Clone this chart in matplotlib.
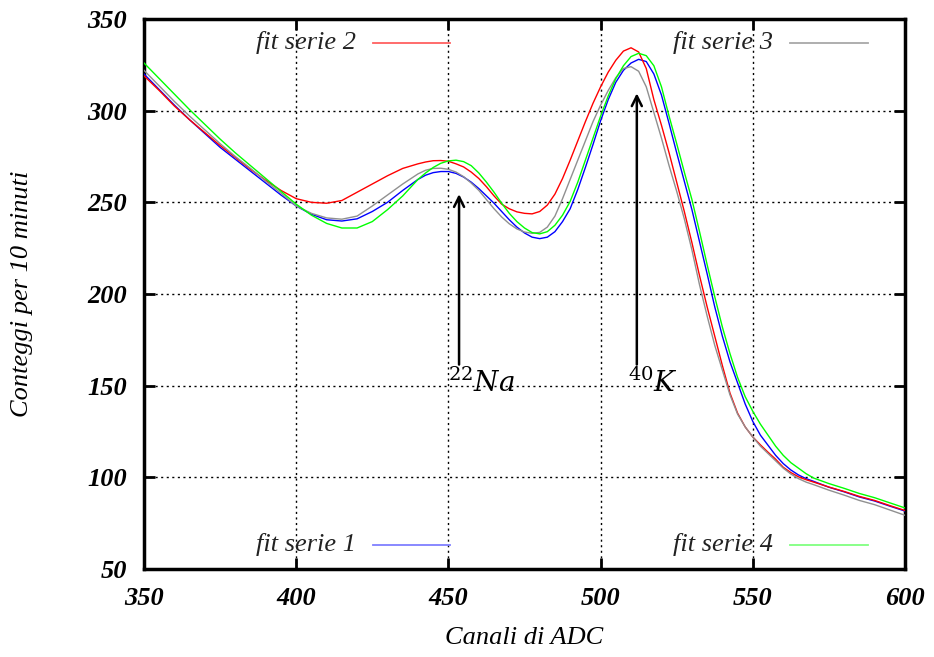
import matplotlib
matplotlib.use("Agg")
import matplotlib.pyplot as plt
from matplotlib.lines import Line2D

# ---- data ----
channels = [350, 355, 360, 365, 370, 375, 380, 385, 390, 395,
            400, 405, 410, 415, 420, 425, 430, 435,
            440, 442.5, 445, 447.5, 450, 452.5, 455, 457.5, 460, 462.5,
            465, 467.5, 470, 472.5, 475, 477.5, 480, 482.5, 485, 487.5,
            490, 492.5, 495, 497.5, 500, 502.5, 505, 507.5, 510, 512.5,
            515, 517.5, 520, 522.5, 525, 527.5, 530, 532.5, 535, 537.5,
            540, 542.5, 545, 547.5, 550, 552.5, 555, 557.5, 560, 562.5,
            565, 567.5, 570, 575, 580, 585, 590, 595, 600]

fit_serie_1 = [320, 311.5, 303, 295, 287.5, 280, 273.5, 267, 260.5, 254,
               248, 243.5, 240.5, 239.8, 241, 245, 250, 256.5,
               262.5, 264.8, 266.2, 266.8, 266.8, 265.8, 263.8, 261, 257.5, 253.5,
               249.5, 245, 240.5, 236.5, 233.3, 231, 230.2, 231, 234, 239.5,
               246.5, 257, 269, 281.5, 294.5, 306, 315.5, 322, 326, 328,
               326.8, 320, 308.5, 293, 277, 261.5, 246, 228.5, 211, 193,
               177, 163, 151.5, 140, 130.5, 123, 117.5, 112, 107.5, 104,
               101.3, 99.3, 97.8, 94.6, 92.1, 89.3, 87.1, 84.3, 81.6]

fit_serie_2 = [319, 311, 302.5, 295, 288, 281, 274.5, 268, 262, 256.5,
               252, 250, 249.5, 251, 255.5, 260, 264.5, 268.5,
               271, 272, 272.7, 272.8, 272.4, 271, 269.3, 266.5, 263, 258.5,
               253.5, 249, 246.5, 244.8, 244, 243.7, 245, 248.5, 254.5, 263,
               273, 283.5, 294, 304, 313, 321, 327.5, 332.5, 334.3, 332,
               323, 306, 292, 277, 261, 245, 228, 210, 193, 177,
               161, 146, 135, 127.5, 122, 117.7, 113.7, 109.9, 105.5, 102.6,
               100.3, 98.7, 97.4, 94.7, 92.3, 89.6, 87.4, 84.6, 81.9]

fit_serie_3 = [322, 313.5, 305, 297, 289.5, 282, 275, 268.5, 261.5, 255,
               248, 244, 241.5, 240.8, 242.5, 248, 254, 260,
               265.5, 267.5, 268.5, 268.6, 268, 266.5, 264, 260.5, 256.5, 251.5,
               246.5, 242, 238.3, 235.5, 233.8, 233.1, 233.6, 236.5, 242.5, 252,
               262.5, 273, 283.5, 294, 303, 311, 318, 323, 324, 321.5,
               313, 299, 285, 270, 256, 241, 224, 205, 188, 172,
               158.5, 145, 134.5, 127.5, 122, 117, 113, 109, 105, 101.8,
               99.3, 97.4, 96, 93, 90.3, 87.4, 85.1, 82.2, 79.3]

fit_serie_4 = [326, 317.5, 309, 300.5, 292.5, 284.5, 277, 270, 263, 256,
               249, 243, 238.5, 236, 236, 239.5, 246, 253.5,
               262.5, 266, 269, 271.3, 272.6, 273, 272.2, 270, 266, 261,
               255.5, 249.5, 244, 239.5, 236, 233.5, 232.8, 234, 237.5, 243,
               250.5, 261, 273, 285, 297, 308, 317.5, 324.5, 329.5, 331.3,
               330, 324.5, 313, 297, 282, 266.5, 251.5, 234, 216, 198.5,
               182, 167.5, 154.5, 144, 136, 129, 123, 117, 112, 108,
               105, 102, 99.6, 96.6, 94, 91.2, 88.9, 86.1, 83.3]

series_names = ["fit serie 1", "fit serie 2", "fit serie 3", "fit serie 4"]
x_ticks = [350, 400, 450, 500, 550, 600]
y_ticks = [50, 100, 150, 200, 250, 300, 350]
na_peak = 453.5
k_peak = 511.9

# ---- style ----
colors = ["#0000ff", "#ff0000", "#909090", "#00ff00"]
legend_colors = ["#7f7fff", "#ff6060", "#a8a8a8", "#80ff80"]
serif = ["Liberation Serif", "DejaVu Serif"]
plt.rcParams["mathtext.fontset"] = "dejavuserif"

fig = plt.figure(figsize=(9.34, 6.57), dpi=100)
ax = fig.add_axes([144 / 934, 1 - 569 / 657, 761 / 934, 550 / 657])

all_series = [fit_serie_1, fit_serie_2, fit_serie_3, fit_serie_4]
for vals, c in zip(all_series, colors):
    ax.plot(channels, vals, color=c, lw=1.0, zorder=3)

ax.set_xlim(350, 600)
ax.set_ylim(50, 350)
ax.set_xticks(x_ticks)
ax.set_yticks(y_ticks)
ax.grid(True, color="black", linestyle=(0, (1.5, 2.5)), linewidth=1.0)
ax.tick_params(direction="in", length=8, width=2, top=True, right=True,
               labelsize=19)
ax.tick_params(axis="x", pad=13)
ax.tick_params(axis="y", pad=12)
for lab in ax.get_xticklabels() + ax.get_yticklabels():
    lab.set_family(serif)
    lab.set_style("italic")
    lab.set_weight("bold")
for sp in ax.spines.values():
    sp.set_linewidth(2.5)

ax.set_xlabel("Canali di ADC", family=serif, style="italic", fontsize=19, va="center")
ax.xaxis.set_label_coords(0.5, -0.125)
ax.set_ylabel("Conteggi per 10 minuti", family=serif, style="italic", fontsize=19, va="center")
ax.yaxis.set_label_coords(-0.160, 0.5)

# annotations
ax.annotate("", xy=(na_peak, 256), xytext=(na_peak, 160),
            arrowprops=dict(arrowstyle="->", lw=1.8, color="black", mutation_scale=18))
ax.annotate("", xy=(k_peak, 311), xytext=(k_peak, 160),
            arrowprops=dict(arrowstyle="->", lw=1.8, color="black", mutation_scale=18))
ax.text(450.0, 151, r"$^{22}Na$", fontsize=20, ha="left", va="center", zorder=5)
ax.text(509.0, 151, r"$^{40}K$", fontsize=20, ha="left", va="center", zorder=5)

# legend entries (text to the left of a short sample line)
leg_pos = {
    0: (373, 450, 545),
    1: (373, 450, 43),
    2: (790, 868, 43),
    3: (790, 868, 545),
}
for i, (x0, x1, py) in leg_pos.items():
    fx0, fx1 = x0 / 934, x1 / 934
    fy = 1 - py / 657
    fig.add_artist(Line2D([fx0, fx1], [fy, fy], color=legend_colors[i], lw=1.3,
                          transform=fig.transFigure))
    fig.text(fx0 - 17 / 934, fy, series_names[i], family=serif, style="italic",
             fontsize=19, ha="right", va="center", color="#222222")

fig.savefig("out.png", dpi=100)
